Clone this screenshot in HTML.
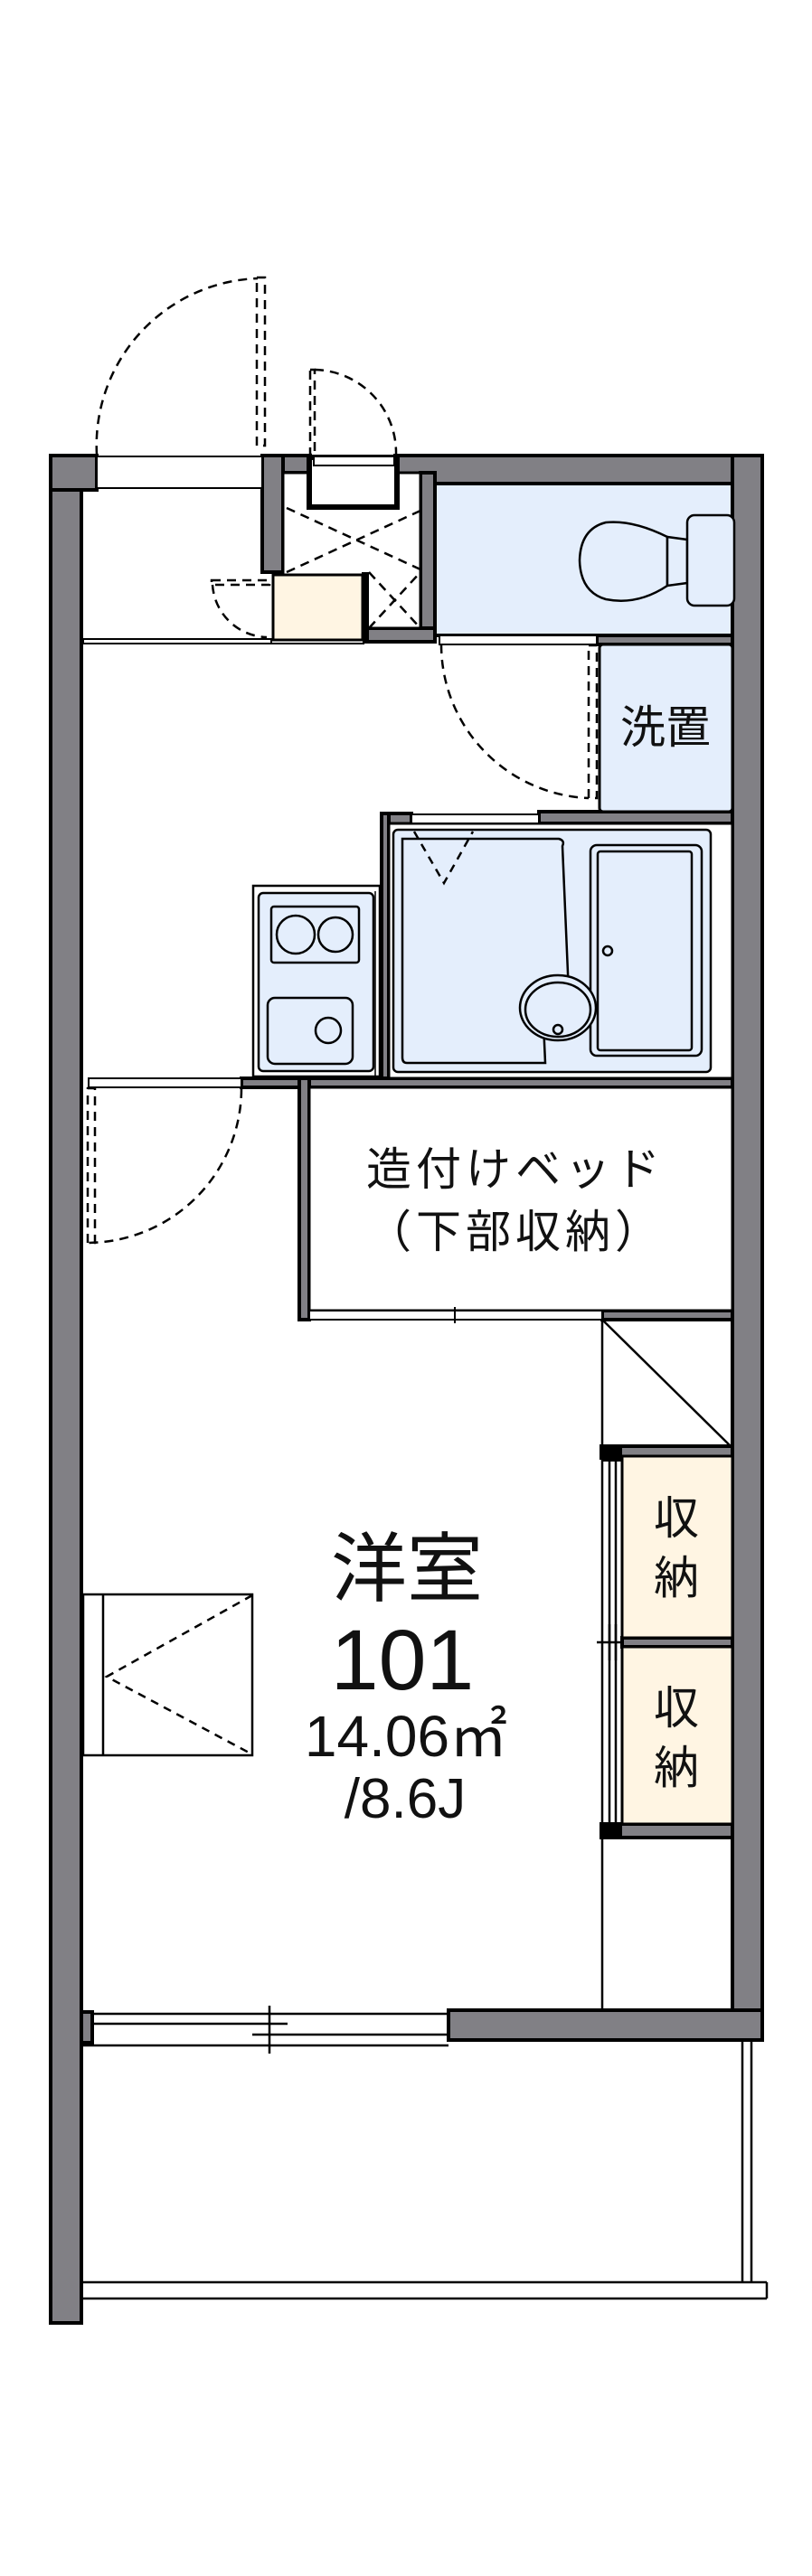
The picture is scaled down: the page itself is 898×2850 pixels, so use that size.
<!DOCTYPE html>
<html><head><meta charset="utf-8"><style>
html,body{margin:0;padding:0;background:#fff}
svg{display:block}
text{font-family:"Liberation Sans","Noto Sans CJK JP",sans-serif;fill:#111}
</style></head><body>
<svg width="898" height="2850" viewBox="0 0 898 2850" xmlns="http://www.w3.org/2000/svg">
<g stroke="#000" stroke-width="4" fill="#818085">
<rect x="56" y="504" width="34" height="2066"/>
<rect x="56" y="504" width="51" height="38"/>
<rect x="290" y="504" width="53" height="19"/>
<rect x="290" y="504" width="23" height="129"/>
<rect x="437" y="504" width="406" height="31"/>
<rect x="810" y="504" width="33" height="1753"/>
<rect x="496" y="2224" width="347" height="33"/>
<rect x="90" y="2226" width="12" height="34"/>
<rect x="465" y="523" width="16" height="187"/>
<rect x="403" y="695" width="78" height="15"/>
<rect x="660" y="703" width="150" height="10"/>
<rect x="596" y="898" width="214" height="13"/>
<rect x="422" y="900" width="33" height="12"/>
<rect x="422" y="900" width="8" height="303"/>
<rect x="267" y="1193" width="543" height="10"/>
<rect x="331" y="1193" width="11" height="267"/>
<rect x="666" y="1450" width="144" height="10"/>
<rect x="665" y="1600" width="145" height="13"/>
<rect x="688" y="1812" width="122" height="10"/>
<rect x="665" y="2018" width="145" height="15"/>
</g>
<g fill="#000">
<rect x="665" y="1600" width="23" height="17"/>
<rect x="665" y="2018" width="23" height="15"/>
</g>
<rect x="481" y="535" width="329" height="168" fill="#e4eefc" stroke="#000" stroke-width="4"/>
<rect x="663" y="713" width="147" height="185" rx="4" fill="#e4eefc" stroke="#000" stroke-width="3"/>
<rect x="430" y="911" width="380" height="282" fill="#fff" stroke="#000" stroke-width="3"/>
<g fill="#fff" stroke="#000" stroke-width="2">
<rect x="107" y="505" width="183" height="35"/>
<rect x="486" y="703" width="174" height="10"/>
<rect x="455" y="901" width="141" height="10"/>
<rect x="98" y="1193" width="169" height="10"/>
<rect x="92" y="707" width="208" height="5"/>
</g>
<rect x="313" y="523" width="152" height="172" fill="#fff" stroke="#000" stroke-width="3"/>
<rect x="342" y="506" width="97" height="55" fill="#fff" stroke="#000" stroke-width="6"/>
<rect x="347" y="505" width="89" height="10" fill="#fff" stroke="#000" stroke-width="2"/>
<g stroke="#000" stroke-width="2.5" stroke-dasharray="10,7" fill="none">
<line x1="317" y1="562" x2="465" y2="630"/>
<line x1="317" y1="633" x2="465" y2="565"/>
<line x1="408" y1="633" x2="465" y2="695"/>
<line x1="408" y1="695" x2="465" y2="633"/>
</g>
<rect x="302" y="636" width="99" height="72" fill="#fff5e3" stroke="#000" stroke-width="3"/>
<rect x="400" y="633" width="8" height="76" fill="#000"/>
<line x1="92" y1="712" x2="403" y2="712" stroke="#000" stroke-width="2"/>
<g stroke="#000" stroke-width="2.5" stroke-dasharray="10,7" fill="none">
<rect x="284" y="307" width="9" height="186"/>
<path d="M107,503 A185,185 0 0 1 285,308"/>
<rect x="343" y="409" width="5" height="94"/>
<path d="M348,409 A92,92 0 0 1 438,503"/>
<rect x="234" y="642" width="64" height="5"/>
<path d="M235,647 A62,62 0 0 0 295,705"/>
<rect x="651" y="714" width="9" height="169"/>
<path d="M488,713 A170,170 0 0 0 651,883"/>
<rect x="97" y="1204" width="8" height="171"/>
<path d="M267,1205 A171,171 0 0 1 98,1375"/>
</g>
<g stroke="#000" stroke-width="2.5" fill="#e4eefc">
<path d="M738,594 Q700,575 670,578 Q642,585 641,620 Q642,655 670,663 Q705,670 738,648 Z"/>
<path d="M738,594 L760,597 L760,645 L738,648 Z"/>
<rect x="760" y="570" width="52" height="100" rx="8"/>
</g>
<text x="736" y="822" font-size="50" text-anchor="middle">洗置</text>
<g stroke="#000" stroke-width="2.5" fill="#e4eefc">
<rect x="435" y="918" width="351" height="268" rx="5"/>
<path d="M445,928 L618,928 Q625,930 622,936 L629,1100 L600,1110 L603,1176 L450,1176 Q445,1176 445,1170 Z"/>
<rect x="653" y="935" width="123" height="233" rx="7"/>
<rect x="661" y="942" width="104" height="220" rx="3"/>
<ellipse cx="617" cy="1115" rx="42" ry="36"/>
<ellipse cx="617" cy="1117" rx="36" ry="30"/>
<circle cx="617" cy="1139" r="5"/>
<circle cx="672" cy="1052" r="5"/>
</g>
<path d="M458,920 L491,977 L523,920" stroke="#000" stroke-width="2.5" stroke-dasharray="9,7" fill="none"/>
<g stroke="#000" stroke-width="2.5" fill="#e4eefc">
<rect x="280" y="980" width="140" height="211" fill="#fff"/>
<rect x="286" y="988" width="127" height="197" rx="5"/>
<rect x="300" y="1003" width="97" height="62" rx="3"/>
<circle cx="327" cy="1034" r="21"/>
<circle cx="371" cy="1034" r="19"/>
<rect x="296" y="1104" width="94" height="73" rx="8"/>
<circle cx="363" cy="1140" r="14"/>
</g>
<line x1="415" y1="986" x2="415" y2="1190" stroke="#000" stroke-width="1.5"/>
<rect x="342" y="1203" width="468" height="247" fill="#fff" stroke="#000" stroke-width="3"/>
<text x="570" y="1311" font-size="50" text-anchor="middle" letter-spacing="5">造付けベッド</text>
<text x="570" y="1380" font-size="50" text-anchor="middle" letter-spacing="5">（下部収納）</text>
<rect x="342" y="1450" width="324" height="10" fill="#fff" stroke="#000" stroke-width="2"/>
<line x1="503" y1="1446" x2="503" y2="1464" stroke="#000" stroke-width="2"/>
<g stroke="#000" stroke-width="2.5" fill="none">
<line x1="666" y1="1460" x2="666" y2="1600"/>
<line x1="666" y1="1460" x2="808" y2="1600"/>
<line x1="666" y1="1613" x2="666" y2="2225"/>
<line x1="674" y1="1617" x2="674" y2="2018"/>
<line x1="681" y1="1617" x2="681" y2="2018"/>
<line x1="660" y1="1817" x2="690" y2="1817"/>
<line x1="674" y1="1797" x2="674" y2="1837"/>
<line x1="681" y1="1797" x2="681" y2="1837"/>
</g>
<rect x="688" y="1611" width="122" height="201" fill="#fff5e3" stroke="#000" stroke-width="3"/>
<rect x="688" y="1822" width="122" height="196" fill="#fff5e3" stroke="#000" stroke-width="3"/>
<text x="748" y="1697" font-size="50" text-anchor="middle">収</text>
<text x="748" y="1763" font-size="50" text-anchor="middle">納</text>
<text x="748" y="1907" font-size="50" text-anchor="middle">収</text>
<text x="748" y="1973" font-size="50" text-anchor="middle">納</text>
<g stroke="#000" stroke-width="2.5" fill="none">
<rect x="92" y="1764" width="187" height="178"/>
<line x1="114" y1="1764" x2="114" y2="1942"/>
<path d="M279,1765 L118,1855 L279,1941" stroke-dasharray="9,7"/>
</g>
<text x="450" y="1765" font-size="84" text-anchor="middle">洋室</text>
<text x="445" y="1869" font-size="95" text-anchor="middle">101</text>
<text x="449" y="1943" font-size="64" text-anchor="middle">14.06㎡</text>
<text x="448" y="2011" font-size="62" text-anchor="middle">/8.6J</text>
<g stroke="#000" stroke-width="2.5" fill="none">
<line x1="102" y1="2228" x2="496" y2="2228"/>
<line x1="102" y1="2239" x2="318" y2="2239"/>
<line x1="279" y1="2251" x2="496" y2="2251"/>
<line x1="90" y1="2263" x2="496" y2="2263"/>
<line x1="298" y1="2219" x2="298" y2="2272"/>
</g>
<g stroke="#000" stroke-width="2.5" fill="none">
<line x1="90" y1="2525" x2="848" y2="2525"/>
<line x1="90" y1="2543" x2="848" y2="2543"/>
<line x1="848" y1="2525" x2="848" y2="2543"/>
<line x1="821" y1="2257" x2="821" y2="2525"/>
<line x1="831" y1="2257" x2="831" y2="2525"/>
</g>
</svg>
</body></html>
